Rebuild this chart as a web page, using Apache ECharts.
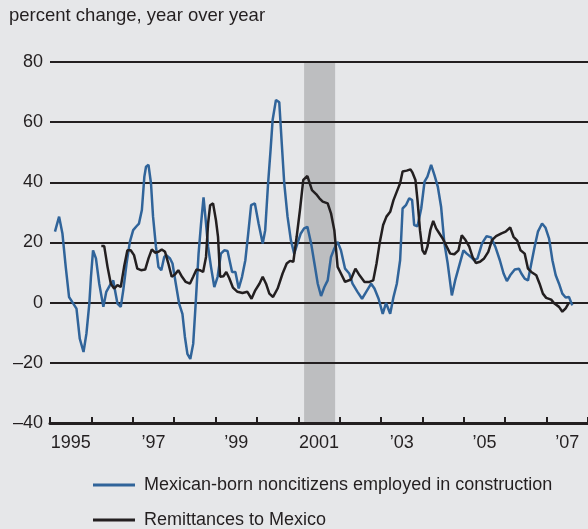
<!DOCTYPE html>
<html>
<head>
<meta charset="utf-8">
<script src="https://cdn.jsdelivr.net/npm/echarts@6/dist/echarts.min.js"></script>
<style>
  html, body { margin: 0; padding: 0; background: #e6e7e9; }
  #chart { width: 588px; height: 529px; }
</style>
</head>
<body>
<div id="chart"></div>
<script>
// time in decimal years, values in percent change year over year
const constructionT = [1995.12, 1995.22, 1995.30, 1995.38, 1995.46, 1995.54, 1995.64, 1995.72, 1995.81, 1995.88, 1995.95, 1995.99,
  1996.04, 1996.11, 1996.19, 1996.29, 1996.36, 1996.45, 1996.53, 1996.57, 1996.63, 1996.71, 1996.77, 1996.85, 1996.93,
  1997.01, 1997.09, 1997.15, 1997.22, 1997.28, 1997.32, 1997.38, 1997.44, 1997.49, 1997.56, 1997.62, 1997.69, 1997.76, 1997.81, 1997.90, 1997.96,
  1998.04, 1998.12, 1998.20, 1998.26, 1998.32, 1998.39, 1998.46, 1998.52, 1998.59, 1998.65, 1998.71, 1998.77, 1998.82, 1998.89, 1998.97,
  1999.05, 1999.13, 1999.21, 1999.29, 1999.33, 1999.40, 1999.48, 1999.56, 1999.64, 1999.72, 1999.79, 1999.86, 1999.95,
  2000.04, 2000.14, 2000.20, 2000.27, 2000.33, 2000.38, 2000.46, 2000.54, 2000.60, 2000.66, 2000.74, 2000.82, 2000.90, 2000.98,
  2001.06, 2001.14, 2001.22, 2001.31, 2001.39, 2001.47, 2001.55, 2001.63, 2001.71, 2001.79, 2001.87, 2001.95,
  2002.03, 2002.13, 2002.23, 2002.31, 2002.43, 2002.54, 2002.64, 2002.76, 2002.84, 2002.94,
  2003.04, 2003.12, 2003.22, 2003.30, 2003.38, 2003.46, 2003.52, 2003.60, 2003.68, 2003.75, 2003.80, 2003.88, 2003.97,
  2004.05, 2004.12, 2004.21, 2004.29, 2004.37, 2004.45, 2004.53, 2004.61, 2004.71, 2004.79, 2004.89, 2004.99,
  2005.07, 2005.17, 2005.25, 2005.33, 2005.44, 2005.55, 2005.66, 2005.76, 2005.87, 2005.96,
  2006.04, 2006.12, 2006.23, 2006.33, 2006.39, 2006.47, 2006.55, 2006.63, 2006.71, 2006.79, 2006.89, 2006.97,
  2007.06, 2007.14, 2007.22, 2007.30, 2007.38, 2007.46, 2007.54, 2007.57, 2007.62];
const constructionV = [23.6, 28.6, 23, 11.9, 1.9, 0.2, -2, -12, -16.4, -10.3, -0.3, 8.6,
  17.4, 14.7, 6.3, -1.4, 3.6, 5.8, 7.4, 4.1, -0.3, -1.4, 4.1, 13, 20.2,
  24.1, 25.4, 26.3, 30.8, 41.9, 45.2, 45.8, 39.7, 28.6, 18.6, 11.9, 10.8, 15.2, 15.8, 14.7, 13,
  6.3, -0.3, -3.7, -11.4, -17, -18.7, -13.7, -0.3, 16.3, 26.3, 35, 26.3, 18.6, 11.9, 5.2,
  8.6, 16.3, 17.4, 17.2, 17.2, 10.2, 10.2, 4.7, 8.6, 14.1, 23, 32.4, 33,
  26.3, 19.7, 24.1, 39.7, 50.8, 60.8, 67.4, 66.6, 53, 39.7, 28.6, 20.8, 16.3, 19.7,
  23, 24.7, 25.2, 19.7, 13, 6.3, 2.2, 5.2, 7.4, 15.2, 18, 20.2,
  17.4, 11.3, 9.7, 6.3, 3.6, 1.3, 3.6, 6.3, 4.7, 1.3,
  -3.7, -0.1, -3.7, 1.9, 6.3, 14.1, 31.3, 32.4, 34.7, 34.1, 25.8, 25.4, 31.3,
  40.2, 41.9, 45.8, 42.4, 38.6, 31.9, 19.7, 13, 2.4, 7.4, 12.4, 17.4,
  16.3, 15.2, 14.1, 14.7, 19.7, 22.1, 21.7, 18.6, 14.1, 9.7,
  7.2, 9.1, 11, 11.3, 9.7, 8, 7.4, 13, 18.6, 23.6, 26.3, 25,
  21.3, 14.1, 9.1, 6.3, 3, 1.7, 1.9, 2.4, -0.9];

const remitT = [1996.24, 1996.31, 1996.39, 1996.47, 1996.55, 1996.63, 1996.71, 1996.79, 1996.87, 1996.95,
  1997.03, 1997.11, 1997.20, 1997.30, 1997.38, 1997.46, 1997.54, 1997.62, 1997.70, 1997.78, 1997.86, 1997.94,
  1998.02, 1998.10, 1998.19, 1998.28, 1998.38, 1998.46, 1998.54, 1998.62, 1998.70, 1998.77, 1998.82, 1998.87, 1998.94,
  1999.01, 1999.06, 1999.11, 1999.19, 1999.26, 1999.33, 1999.42, 1999.53, 1999.65, 1999.77, 1999.87, 1999.96,
  2000.06, 2000.14, 2000.22, 2000.30, 2000.39, 2000.50, 2000.62, 2000.72, 2000.80, 2000.88, 2000.96,
  2001.04, 2001.12, 2001.22, 2001.33, 2001.43, 2001.51, 2001.59, 2001.71, 2001.79, 2001.87, 2001.95,
  2002.03, 2002.13, 2002.27, 2002.38, 2002.48, 2002.60, 2002.72, 2002.81, 2002.89, 2002.97,
  2003.05, 2003.13, 2003.22, 2003.30, 2003.38, 2003.46, 2003.52, 2003.62, 2003.71, 2003.76, 2003.83, 2003.88, 2003.94,
  2004.00, 2004.06, 2004.12, 2004.19, 2004.26, 2004.33, 2004.41, 2004.49, 2004.57, 2004.67, 2004.77, 2004.87, 2004.95,
  2005.03, 2005.13, 2005.21, 2005.29, 2005.39, 2005.49, 2005.59, 2005.68, 2005.78, 2005.91,
  2006.01, 2006.12, 2006.20, 2006.29, 2006.37, 2006.47, 2006.55, 2006.63, 2006.75, 2006.83, 2006.91, 2006.99,
  2007.11, 2007.19, 2007.30, 2007.38, 2007.46, 2007.54];
const remitV = [18.8, 18.8, 11.9, 6.3, 4.7, 5.8, 5.2, 11.9, 17.4, 17.4,
  15.8, 11.3, 10.8, 11, 14.7, 17.7, 16.6, 16.9, 17.7, 16.9, 13, 8.6,
  9.4, 10.8, 8.6, 6.9, 6.3, 8.6, 11, 10.8, 10.2, 15.2, 26.3, 32.4, 33,
  27.4, 21.9, 8.6, 8.8, 10.2, 8.2, 5, 3.6, 3.2, 3.6, 1.3, 4.1,
  6.3, 8.6, 6.3, 3, 1.9, 4.7, 9.7, 13, 13.9, 13.6, 21.9,
  30.8, 40.8, 42.1, 37.4, 36.1, 34.7, 33.6, 33, 29.7, 24.1, 11.9,
  9.7, 6.9, 7.7, 11.3, 9.1, 6.9, 6.9, 7.4, 13, 20.2,
  25.8, 28.6, 30.2, 34.1, 36.9, 39.7, 43.6, 43.9, 44.3, 43.2, 40.8, 34.1, 24.1,
  17.4, 16.1, 18.6, 24.1, 27.2, 24.7, 23, 21.3, 19.1, 16.3, 16.1, 17.4, 22.4,
  21, 18.6, 15.2, 13.2, 13.6, 14.7, 16.9, 20.8, 22.1, 23,
  23.6, 25, 21.9, 20.6, 17.4, 16.3, 11.3, 10.2, 9.1, 6.3, 3, 1.6,
  1, -0.3, -1.4, -3, -1.9, 0];

const yearLabels = ['1995', '', '\u201997', '', '\u201999', '', '2001', '', '\u201903', '', '\u201905', '', '\u201907'];
const recession = [2001.14, 2001.89];
const seriesNames = ['Mexican-born noncitizens employed in construction', 'Remittances to Mexico'];

const ink = '#231f20';
const blue = '#30649a';

function pairs(t, v) {
  return t.map((x, i) => [x, v[i]]);
}

function legendRow(name, top) {
  return {
    left: 88, top: top, itemWidth: 42, itemHeight: 3, icon: 'rect',
    textStyle: { fontSize: 18, color: ink, padding: [0, 0, 0, 4] },
    data: [name]
  };
}

const chart = echarts.init(document.getElementById('chart'));
chart.setOption({
  backgroundColor: '#e6e7e9',
  animation: false,
  textStyle: { fontFamily: '"Liberation Sans", Arial, sans-serif' },
  title: {
    text: 'percent change, year over year',
    left: 9, top: 6, padding: 0,
    textStyle: { fontSize: 18.5, fontWeight: 'normal', color: ink }
  },
  grid: { left: 50, right: 0, top: 62, height: 361 },
  xAxis: [{
    type: 'value', min: 1995, max: 2008, interval: 1,
    axisLine: { show: true, onZero: false, lineStyle: { color: ink, width: 3 } },
    axisTick: { show: true, inside: true, length: 6, lineStyle: { color: ink, width: 2 } },
    axisLabel: { show: false },
    splitLine: { show: false }
  }, {
    type: 'category', position: 'bottom', data: yearLabels, boundaryGap: true,
    axisLine: { show: false }, axisTick: { show: false }, splitLine: { show: false },
    axisLabel: { interval: 0, margin: 11, fontSize: 18, color: ink }
  }],
  yAxis: {
    type: 'value', min: -40, max: 80, interval: 20,
    axisLine: { show: false }, axisTick: { show: false },
    axisLabel: {
      margin: 7, fontSize: 18, color: ink,
      formatter: v => String(v).replace('-', '\u2013')
    },
    splitLine: { lineStyle: { color: ink, width: 2 } }
  },
  legend: [legendRow(seriesNames[0], 471), legendRow(seriesNames[1], 506)],
  series: [{
    name: 'recession', type: 'line', data: [], z: -1, silent: true,
    markArea: {
      silent: true, z: -1,
      itemStyle: { color: '#bdbec0' },
      data: [[{ xAxis: recession[0] }, { xAxis: recession[1] }]]
    }
  }, {
    name: seriesNames[0],
    type: 'line', showSymbol: false, color: blue,
    lineStyle: { color: blue, width: 2.5 },
    data: pairs(constructionT, constructionV)
  }, {
    name: seriesNames[1],
    type: 'line', showSymbol: false, color: ink,
    lineStyle: { color: ink, width: 2.5 },
    data: pairs(remitT, remitV)
  }]
});
</script>
</body>
</html>
